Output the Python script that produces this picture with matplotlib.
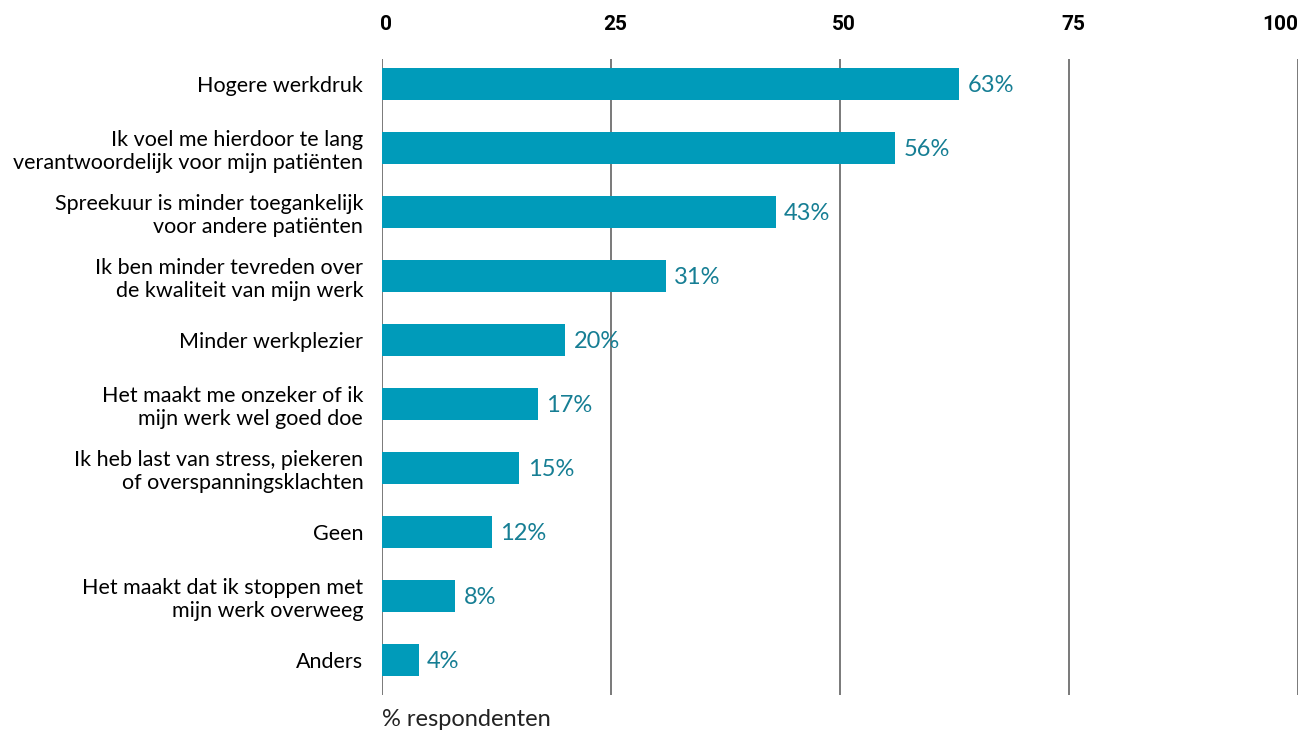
import matplotlib
matplotlib.use('Agg')
import matplotlib.pyplot as plt
from matplotlib.transforms import ScaledTranslation

plt.rcParams['font.family'] = ['Lato', 'DejaVu Sans']

# gevolgen, van hoog naar laag
categories = [
    'Hogere werkdruk',
    'Ik voel me hierdoor te lang\nverantwoordelijk voor mijn patiënten',
    'Spreekuur is minder toegankelijk\nvoor andere patiënten',
    'Ik ben minder tevreden over\nde kwaliteit van mijn werk',
    'Minder werkplezier',
    'Het maakt me onzeker of ik\nmijn werk wel goed doe',
    'Ik heb last van stress, piekeren\nof overspanningsklachten',
    'Geen',
    'Het maakt dat ik stoppen met\nmijn werk overweeg',
    'Anders',
]
values = [63, 56, 43, 31, 20, 17, 15, 12, 8, 4]
xticks = [0, 25, 50, 75, 100]

bar_color = '#009bba'
text_color = '#167e94'
grid_color = '#555555'

fig = plt.figure(figsize=(13.1, 7.35), dpi=100)
ax = fig.add_axes([382 / 1310, 40 / 735, 916 / 1310, 636 / 735])

pos = list(range(len(categories)))
ax.barh(pos, values, height=0.5, color=bar_color, zorder=3)

for p, v in zip(pos, values):
    ax.annotate(f'{v}%', xy=(v, p), xytext=(6, -1), textcoords='offset points',
                va='center', ha='left', fontsize=17, color=text_color)

ax.set_xlim(0, 100)
ax.set_ylim(9.55, -0.39)

ax.set_xticks(xticks)
ax.set_xticklabels([str(t) for t in xticks])
ax.xaxis.tick_top()
ax.tick_params(axis='x', length=0, pad=18)
shift = ScaledTranslation(4 / 100, 0, fig.dpi_scale_trans)
for lbl in ax.get_xticklabels():
    lbl.set_fontfamily('Roboto')
    lbl.set_fontweight('bold')
    lbl.set_fontsize(15)
    lbl.set_transform(lbl.get_transform() + shift)
# laatste label rechts uitlijnen zodat het binnen de rand blijft
last = ax.get_xticklabels()[-1]
last.set_ha('right')
last.set_transform(last.get_transform() + ScaledTranslation(-4 / 100, 0, fig.dpi_scale_trans))

ax.set_yticks(pos)
ax.set_yticklabels(categories, fontsize=15.5)
ax.tick_params(axis='y', length=0, pad=13.5)

for t in xticks:
    ax.axvline(t, color=grid_color, lw=1.1, zorder=1)

for s in ax.spines.values():
    s.set_visible(False)

fig.text(382 / 1310, 1 - 720 / 735, '% respondenten', fontsize=17,
         ha='left', va='center', color='#222222')

fig.savefig('out.png', dpi=100)
